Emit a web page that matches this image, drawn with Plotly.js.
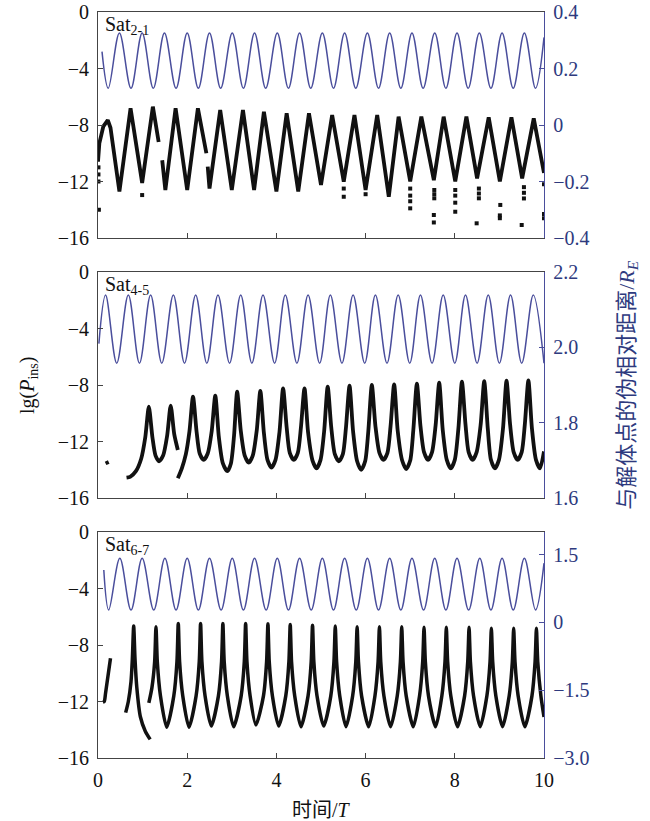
<!DOCTYPE html>
<html>
<head>
<meta charset="utf-8">
<script src="https://cdn.plot.ly/plotly-3.0.1.min.js"></script>
<style>html,body{margin:0;padding:0;background:#fff;}#chart{width:650px;height:821px;}</style>
</head>
<body>
<div id="chart"></div>
<script>
// ---- Data ----
const panelLabels = ['Sat<sub>2-1</sub>', 'Sat<sub>4-5</sub>', 'Sat<sub>6-7</sub>'];
const xTicks = [0, 2, 4, 6, 8, 10];
const leftTicks = [0, -4, -8, -12, -16];
const rightTicks3 = [-3, -1.5, 0, 1.5];
const rightTickText3 = ['\u22123.0', '\u22121.5', '0', '1.5'];

// Blue: pseudo relative distance (right axis)
const blue1X = [0.09,0.23,0.48,0.74,0.99,1.24,1.49,1.75,2.0,2.25,2.5,2.75,3.01,3.26,3.51,3.76,4.02,4.27,4.52,4.77,5.03,5.28,5.53,5.78,6.04,6.29,6.54,6.79,7.04,7.29,7.55,7.8,8.05,8.3,8.55,8.81,9.06,9.31,9.56,9.81,10.0];
const blue1Y = [0.26,0.13,0.326,0.13,0.326,0.13,0.326,0.13,0.326,0.13,0.326,0.13,0.326,0.13,0.326,0.13,0.326,0.13,0.326,0.13,0.326,0.13,0.326,0.13,0.326,0.13,0.326,0.13,0.326,0.13,0.326,0.13,0.326,0.13,0.326,0.13,0.326,0.13,0.326,0.13,0.31];

const blue2X = [0.02,0.17,0.42,0.68,0.93,1.18,1.43,1.69,1.94,2.19,2.44,2.69,2.95,3.2,3.45,3.7,3.96,4.2,4.46,4.71,4.97,5.21,5.47,5.72,5.98,6.22,6.48,6.73,6.99,7.23,7.49,7.74,8.0,8.24,8.5,8.75,9.0,9.25,9.5,9.76,10.0];
const blue2Y = [2.01,2.139,1.958,2.139,1.958,2.139,1.958,2.139,1.958,2.139,1.958,2.139,1.958,2.139,1.958,2.139,1.958,2.139,1.958,2.139,1.958,2.139,1.958,2.139,1.958,2.139,1.958,2.139,1.958,2.139,1.958,2.139,1.958,2.139,1.958,2.139,1.958,2.139,1.958,2.139,1.958];

const blue3X = [0.13,0.24,0.49,0.74,0.99,1.25,1.5,1.75,2.0,2.25,2.5,2.76,3.01,3.26,3.51,3.77,4.02,4.27,4.52,4.78,5.03,5.28,5.53,5.79,6.04,6.29,6.54,6.79,7.04,7.3,7.55,7.8,8.05,8.31,8.56,8.81,9.06,9.31,9.56,9.81,10.0];
const blue3Y = [1.16,0.274,1.418,0.274,1.418,0.274,1.418,0.274,1.418,0.274,1.418,0.274,1.418,0.274,1.418,0.274,1.418,0.274,1.418,0.274,1.418,0.274,1.418,0.274,1.418,0.274,1.418,0.274,1.418,0.274,1.418,0.274,1.418,0.274,1.418,0.274,1.418,0.274,1.418,0.274,1.31];

// Black: lg(P_ins) (left axis); null = gap
const sat21Line = [
 [0.0,-10.6],[0.03,-9.3],[0.12,-8.1],[0.22,-7.65],[0.28,-8.2],[0.48,-12.7],[0.73,-6.82],[0.99,-12.1],[1.23,-6.7],[1.36,-9.2],[null,null],
 [1.44,-10.5],[1.51,-12.6],[1.74,-6.82],[2.0,-12.6],[2.24,-6.82],[2.43,-10.0],[null,null],
 [2.46,-10.95],[2.5,-12.5],[2.74,-6.94],[3.0,-12.6],[3.25,-6.94],[3.5,-12.6],[3.72,-7.06],[4.0,-12.7],[4.23,-7.17],[4.49,-12.7],
 [4.73,-7.17],[5.0,-12.25],[5.25,-7.29],[5.51,-12.02],[5.75,-7.29],[6.0,-12.6],[6.26,-7.29],[6.52,-13.08],[6.74,-7.41],[7.0,-12.0],
 [7.25,-7.41],[7.53,-11.9],[7.75,-7.41],[8.01,-12.0],[8.26,-7.41],[8.5,-11.78],[8.76,-7.45],[9.01,-12.0],[9.27,-7.45],[9.51,-11.78],
 [9.77,-7.53],[10.0,-11.4]
];
const sat21Dots = [
 [0.01,-11.0],[0.01,-11.5],[0.01,-12.0],[0.02,-14.0],[0.99,-12.96],[5.51,-12.5],[5.51,-13.08],[6.0,-12.9],
 [7.0,-12.5],[7.0,-13.0],[7.0,-13.4],[7.0,-13.9],[7.54,-12.6],[7.54,-12.9],[7.54,-13.19],[7.53,-14.37],[7.53,-14.9],
 [8.01,-12.6],[8.01,-13.0],[8.01,-13.5],[8.01,-14.14],[8.54,-12.5],[8.54,-12.85],[8.54,-13.19],[8.49,-14.96],
 [9.02,-13.66],[9.01,-14.4],[9.01,-14.6],[9.55,-12.4],[9.55,-12.8],[9.55,-13.2],[9.5,-15.08],[10.0,-12.2],[10.0,-14.3],[10.0,-14.6]
];
const sat45Line = [
 [0.17,-13.55],[0.24,-13.45],[null,null],
 [0.64,-14.56],[0.72,-14.5],[0.85,-14.1],[0.97,-13.2],[1.06,-11.7],[1.14,-9.54],[1.22,-11.7],[1.29,-13.0],[1.37,-13.4],
 [1.46,-13.0],[1.55,-11.6],[1.63,-9.47],[1.71,-11.5],[1.79,-12.6],[null,null],
 [1.79,-14.6],[1.88,-13.9],[1.97,-12.9],[2.05,-11.3],[2.13,-8.83],[2.21,-11.3],[2.28,-12.85],[2.37,-13.3],[2.46,-12.85],[2.55,-11.25],
 [2.63,-8.76],[2.71,-11.7],[2.80,-13.55],[2.90,-14.1],[2.98,-13.55],[3.05,-11.6],[3.12,-8.47],[3.20,-11.2],[3.29,-13.0],[3.38,-13.5],
 [3.47,-13.0],[3.56,-11.2],[3.64,-8.42],[3.72,-11.4],[3.80,-13.3],[3.89,-13.85],[3.98,-13.3],[4.07,-11.3],[4.15,-8.24],[4.23,-11.0],
 [4.30,-12.8],[4.39,-13.3],[4.48,-12.8],[4.55,-11.0],[4.63,-8.24],[4.71,-11.35],[4.81,-13.35],[4.90,-13.9],[4.99,-13.3],[5.07,-11.3],
 [5.15,-8.12],[5.23,-11.0],[5.31,-12.9],[5.40,-13.4],[5.49,-12.9],[5.56,-11.0],[5.64,-8.05],[5.72,-11.3],[5.81,-13.4],[5.90,-14.0],
 [5.99,-13.4],[6.06,-11.3],[6.14,-8.0],[6.22,-10.9],[6.31,-12.8],[6.40,-13.3],[6.49,-12.8],[6.56,-10.9],[6.64,-7.95],[6.72,-11.25],
 [6.82,-13.35],[6.91,-13.95],[7.00,-13.35],[7.07,-11.2],[7.15,-7.9],[7.23,-10.9],[7.31,-12.75],[7.40,-13.3],[7.49,-12.75],[7.57,-10.85],
 [7.65,-7.84],[7.73,-11.2],[7.82,-13.3],[7.91,-13.9],[8.00,-13.3],[8.08,-11.1],[8.16,-7.77],[8.24,-10.8],[8.31,-12.75],[8.40,-13.3],
 [8.49,-12.75],[8.58,-10.8],[8.66,-7.73],[8.74,-11.1],[8.81,-13.3],[8.90,-13.9],[8.99,-13.3],[9.08,-11.1],[9.16,-7.7],[9.24,-10.8],
 [9.32,-12.75],[9.41,-13.3],[9.50,-12.75],[9.57,-10.8],[9.65,-7.68],[9.73,-11.1],[9.82,-13.3],[9.91,-13.9],[10.0,-12.7]
];
const sat67Line = [
 [0.11,-12.05],[0.14,-12.0],[0.17,-11.4],[0.28,-8.94],[null,null],
 [0.62,-12.79],[0.68,-12.0],[0.74,-10.6],[0.77,-9.0],[0.80,-6.66],[0.83,-9.0],[0.87,-11.0],[0.95,-13.08],[1.06,-14.1],[1.17,-14.68],[null,null],
 [1.14,-12.1],[1.21,-11.0],[1.27,-9.2],[1.30,-6.70],[1.33,-9.2],[1.40,-11.6],[1.54,-13.83],[1.70,-11.6],[1.77,-9.2],[1.80,-6.47],
 [1.83,-9.2],[1.90,-11.6],[2.04,-13.83],[2.20,-11.6],[2.27,-9.2],[2.30,-6.47],[2.33,-9.2],[2.40,-11.6],[2.54,-13.74],[2.70,-11.6],
 [2.77,-9.2],[2.80,-6.47],[2.83,-9.2],[2.90,-11.6],[3.04,-13.79],[3.21,-11.6],[3.28,-9.2],[3.31,-6.47],[3.34,-9.2],[3.41,-11.6],
 [3.54,-13.67],[3.71,-11.6],[3.78,-9.2],[3.81,-6.50],[3.84,-9.2],[3.91,-11.6],[4.05,-13.74],[4.21,-11.6],[4.28,-9.2],[4.31,-6.55],
 [4.34,-9.2],[4.41,-11.6],[4.55,-13.79],[4.71,-11.6],[4.78,-9.2],[4.81,-6.60],[4.84,-9.2],[4.91,-11.6],[5.06,-13.74],[5.22,-11.6],
 [5.29,-9.2],[5.32,-6.66],[5.35,-9.2],[5.42,-11.6],[5.56,-13.79],[5.71,-11.6],[5.78,-9.2],[5.81,-6.70],[5.84,-9.2],[5.91,-11.6],
 [6.07,-13.79],[6.21,-11.6],[6.28,-9.2],[6.31,-6.70],[6.34,-9.2],[6.41,-11.6],[6.56,-13.79],[6.71,-11.6],[6.78,-9.2],[6.81,-6.70],
 [6.84,-9.2],[6.91,-11.6],[7.07,-13.79],[7.21,-11.6],[7.28,-9.2],[7.31,-6.75],[7.34,-9.2],[7.41,-11.6],[7.57,-13.79],[7.71,-11.6],
 [7.78,-9.2],[7.81,-6.75],[7.84,-9.2],[7.91,-11.6],[8.06,-13.79],[8.22,-11.6],[8.29,-9.2],[8.32,-6.75],[8.35,-9.2],[8.42,-11.6],
 [8.57,-13.79],[8.72,-11.6],[8.79,-9.2],[8.82,-6.82],[8.85,-9.2],[8.92,-11.6],[9.07,-13.79],[9.22,-11.6],[9.29,-9.2],[9.32,-6.82],
 [9.35,-9.2],[9.42,-11.6],[9.57,-13.79],[9.73,-11.6],[9.80,-9.2],[9.83,-6.82],[9.86,-9.2],[9.93,-11.6],[10.0,-13.1]
];

// ---- Styling ----
const BLUE = '#4a4e9c';
const NAVY = '#2e3a7e';
const AXIS = '#444';
const FONT = 'Liberation Serif, Times New Roman, serif';
const CJK = 'Liberation Serif, Noto Sans CJK SC, serif';

const xs = p => p.map(d => d[0]);
const ys = p => p.map(d => d[1]);

const traces = [];
function blueTrace(x, y, xa, ya) {
  traces.push({x, y, xaxis: xa, yaxis: ya, type: 'scatter', mode: 'lines',
    line: {color: BLUE, width: 1.5, shape: 'spline', smoothing: 1}, hoverinfo: 'skip'});
}
function blackTrace(p, xa, ya, shape, w) {
  traces.push({x: xs(p), y: ys(p), xaxis: xa, yaxis: ya, type: 'scatter', mode: 'lines',
    line: {color: '#111', width: w, shape: shape, smoothing: 0.7}, connectgaps: false, hoverinfo: 'skip'});
}
blueTrace(blue1X, blue1Y, 'x', 'y2');
blackTrace(sat21Line, 'x', 'y', 'linear', 3.8);
traces.push({x: xs(sat21Dots), y: ys(sat21Dots), xaxis: 'x', yaxis: 'y', type: 'scatter', mode: 'markers',
  marker: {color: '#111', size: 4, symbol: 'square'}, hoverinfo: 'skip'});
blueTrace(blue2X, blue2Y, 'x2', 'y4');
blackTrace(sat45Line, 'x2', 'y3', 'spline', 3.8);
blueTrace(blue3X, blue3Y, 'x3', 'y6');
blackTrace(sat67Line, 'x3', 'y5', 'spline', 3.5);

const H = 746;
const domains = [[520/H, 1], [260/H, 486/H], [0, 226/H]];

function xAxis(i) {
  return {domain: [0, 1], range: [0, 10], anchor: i === 0 ? 'y' : (i === 1 ? 'y3' : 'y5'),
    tickvals: xTicks, ticks: 'inside', ticklen: 5, tickcolor: AXIS, showline: true, linecolor: AXIS, linewidth: 1,
    mirror: true, showgrid: false, zeroline: false, showticklabels: i === 2,
    tickfont: {family: FONT, size: 20, color: '#111'}, ticklabelstandoff: 4};
}
function leftAxis(i) {
  return {domain: domains[i], range: [-16, 0], anchor: ['x', 'x2', 'x3'][i], tickvals: leftTicks,
    ticks: 'inside', ticklen: 5, tickcolor: AXIS, showline: true, linecolor: AXIS, linewidth: 1,
    showgrid: false, zeroline: false, tickfont: {family: FONT, size: 20, color: '#111'}, ticklabelstandoff: 4};
}
function rightAxis(i, range, extra) {
  return Object.assign({range: range, overlaying: ['y', 'y3', 'y5'][i], side: 'right', anchor: ['x', 'x2', 'x3'][i],
    ticks: 'inside', ticklen: 5, tickcolor: BLUE, showline: true, linecolor: BLUE, linewidth: 1.2,
    showgrid: false, zeroline: false, tickfont: {family: FONT, size: 20, color: NAVY}, ticklabelstandoff: 4}, extra);
}

const annotations = panelLabels.map((t, i) => ({
  text: t, xref: ['x', 'x2', 'x3'][i] + ' domain', yref: ['y', 'y3', 'y5'][i] + ' domain',
  x: 0.012, y: 1, xanchor: 'left', yanchor: 'top', showarrow: false, yshift: 1,
  font: {family: FONT, size: 20, color: '#111'}
}));
annotations.push({text: 'lg(<i>P</i><sub>ins</sub>)', xref: 'paper', yref: 'paper', x: -0.157, y: 0.5,
  xanchor: 'center', yanchor: 'middle', textangle: -90, showarrow: false, font: {family: FONT, size: 20, color: '#111'}});
annotations.push({text: '与解体点的伪相对距离/<i>R</i><sub><i>E</i></sub>', xref: 'paper', yref: 'paper', x: 1.188, y: 0.5,
  xanchor: 'center', yanchor: 'middle', textangle: -90, showarrow: false, font: {family: CJK, size: 22, color: NAVY}});
annotations.push({text: '时间/<i>T</i>', xref: 'paper', yref: 'paper', x: 0.5, y: -0.07,
  xanchor: 'center', yanchor: 'middle', showarrow: false, font: {family: CJK, size: 20, color: '#111'}});

const layout = {
  width: 650, height: 821, margin: {l: 98, r: 106, t: 12, b: 63},
  paper_bgcolor: '#fff', plot_bgcolor: '#fff', showlegend: false,
  xaxis: xAxis(0), xaxis2: xAxis(1), xaxis3: xAxis(2),
  yaxis: leftAxis(0), yaxis3: leftAxis(1), yaxis5: leftAxis(2),
  yaxis2: rightAxis(0, [-0.4, 0.4], {tickvals: [-0.4, -0.2, 0, 0.2, 0.4]}),
  yaxis4: rightAxis(1, [1.6, 2.2], {tickvals: [1.6, 1.8, 2.0, 2.2], tickformat: '.1f'}),
  yaxis6: rightAxis(2, [-3, 2], {tickvals: rightTicks3, ticktext: rightTickText3}),
  annotations: annotations
};

Plotly.newPlot('chart', traces, layout, {displayModeBar: false, staticPlot: true});
</script>
</body>
</html>
